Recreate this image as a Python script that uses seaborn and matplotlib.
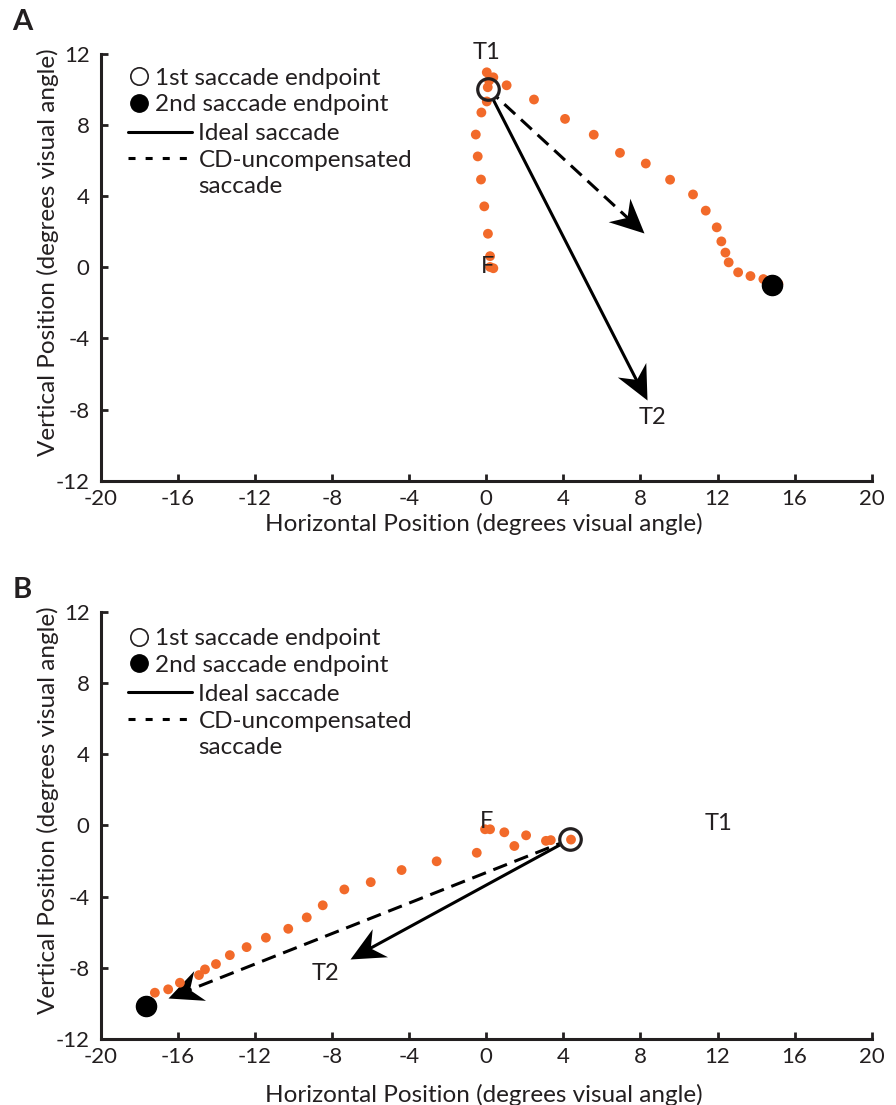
import numpy as np
import matplotlib
matplotlib.use('Agg')
import matplotlib.pyplot as plt
import seaborn as sns
from matplotlib.lines import Line2D
from matplotlib.markers import MarkerStyle
from matplotlib.path import Path
from matplotlib.transforms import Affine2D

# ---- panel A data (degrees visual angle) ----
a_fix_x = [0.2, 0.37, 0.2, 0.09, -0.1, -0.27, -0.44, -0.54, -0.25, 0.03, 0.08, 0.15, 0.03, 0.37]
a_fix_y = [0.02, -0.05, 0.63, 1.89, 3.43, 4.94, 6.24, 7.47, 8.71, 9.33, 10.13, 10.5, 10.97, 10.69]
a_sac_x = [1.06, 2.48, 4.09, 5.58, 6.94, 8.28, 9.54, 10.73, 11.39, 11.96, 12.2, 12.41, 12.58,
           13.07, 13.71, 14.38, 15.16]
a_sac_y = [10.24, 9.44, 8.35, 7.46, 6.44, 5.84, 4.93, 4.1, 3.19, 2.25, 1.46, 0.83, 0.28,
           -0.28, -0.49, -0.66, -0.92]
a_first = (0.08, 10.04)
a_second = (14.83, -1.01)
a_ideal_tip = (8.33, -7.47)
a_cd_tip = (8.19, 1.93)
a_targets = ['T1', 'F', 'T2']
a_target_x = [0.04, 0.06, 8.64]
a_target_y = [12.08, 0.06, -8.44]

# ---- panel B data ----
b_fix_x = [-0.06, 0.2, 0.94, 2.07, 3.1, 3.35, 4.4]
b_fix_y = [-0.22, -0.22, -0.39, -0.56, -0.87, -0.83, -0.8]
b_sac_x = [1.46, -0.49, -2.57, -4.39, -5.99, -7.36, -8.48, -9.31, -10.27, -11.43, -12.43,
           -13.3, -14.02, -14.59, -14.9, -15.89, -16.5, -17.19]
b_sac_y = [-1.16, -1.54, -2.02, -2.51, -3.19, -3.6, -4.49, -5.17, -5.81, -6.31, -6.84,
           -7.29, -7.79, -8.09, -8.41, -8.84, -9.21, -9.4]
b_first = (4.35, -0.79)
b_second = (-17.66, -10.15)
b_ideal_tip = (-7.07, -7.53)
b_cd_tip = (-16.5, -9.72)
b_targets = ['F', 'T1', 'T2']
b_target_x = [0.0, 12.05, -8.33]
b_target_y = [0.2, 0.11, -8.31]

x_ticks = list(range(-20, 21, 4))
y_ticks = list(range(-12, 13, 4))

ORANGE = '#f26a2a'
INK = '#231f20'
HEAD = Path([(0, 0), (-1, 0.47), (-0.68, 0), (-1, -0.47), (0, 0)],
            [Path.MOVETO, Path.LINETO, Path.LINETO, Path.LINETO, Path.CLOSEPOLY])
HEAD_PX = 34

sns.set_style('ticks')
plt.rcParams['font.family'] = ['Lato', 'DejaVu Sans']

fig = plt.figure(figsize=(8.96, 11.05), dpi=100)
axA = fig.add_axes([100.7 / 896, 1 - 480.7 / 1105, 771 / 896, 426.7 / 1105])
axB = fig.add_axes([100.7 / 896, 1 - 1039 / 1105, 771 / 896, 427.3 / 1105])


def arrow(ax, tail, tip, dashed=False):
    p0 = ax.transData.transform(tail)
    p1 = ax.transData.transform(tip)
    d = p1 - p0
    u = d / np.hypot(*d)
    ang = np.degrees(np.arctan2(d[1], d[0]))
    end = ax.transData.inverted().transform(p1 - u * HEAD_PX * 0.6)
    ls = (0, (4.8, 2.6)) if dashed else '-'
    ax.plot([tail[0], end[0]], [tail[1], end[1]], color='black', lw=2.2, ls=ls,
            solid_capstyle='butt', dash_capstyle='butt', zorder=2)
    m = MarkerStyle(HEAD, transform=Affine2D().rotate_deg(ang))
    ax.plot([tip[0]], [tip[1]], ls='none', marker=m, ms=2 * HEAD_PX * 0.72,
            color='black', mew=0, zorder=2.5)


def panel(ax, fix_x, fix_y, sac_x, sac_y, first, second, ideal_tip, cd_tip,
          targets, tx, ty, xlab_y, leg_y):
    ax.set_xlim(-20, 20)
    ax.set_ylim(-12, 12)
    ax.set_xticks(x_ticks)
    ax.set_yticks(y_ticks)
    ax.set_xticklabels([str(v) for v in x_ticks])
    ax.set_yticklabels([str(v) for v in y_ticks])
    sns.despine(ax=ax)
    for s in ['left', 'bottom']:
        ax.spines[s].set_linewidth(2.2)
        ax.spines[s].set_color(INK)
    ax.tick_params(direction='in', length=5, width=2, color=INK, labelcolor=INK,
                   labelsize=16)
    ax.tick_params(axis='y', pad=8)
    ax.tick_params(axis='x', pad=6)

    arrow(ax, first, ideal_tip)
    arrow(ax, first, cd_tip, dashed=True)

    # white disc hides line start inside the open circle
    ax.plot([first[0]], [first[1]], ls='none', marker='o', ms=15, mfc='white',
            mec='none', zorder=3)
    sns.scatterplot(x=fix_x + sac_x, y=fix_y + sac_y, ax=ax, color=ORANGE, s=50,
                    edgecolor='none', zorder=4, legend=False)
    ax.plot([first[0]], [first[1]], ls='none', marker='o', ms=15.5, mfc='none',
            mec=INK, mew=2.3, zorder=5)
    ax.plot([second[0]], [second[1]], ls='none', marker='o', ms=14.5, color='black',
            zorder=5)

    for t, x, y in zip(targets, tx, ty):
        ax.text(x, y, t, ha='center', va='center', fontsize=17, color=INK, zorder=6)

    ax.set_xlabel('Horizontal Position (degrees visual angle)', fontsize=17.5, color=INK)
    ax.set_ylabel('Vertical Position (degrees visual angle)', fontsize=17.5, color=INK)
    ax.xaxis.set_label_coords(0.497, xlab_y)
    ax.yaxis.set_label_coords(-0.054, 0.535)

    h1 = [Line2D([], [], ls='none', marker='o', ms=12.5, mfc='white', mec=INK, mew=1.2),
          Line2D([], [], ls='none', marker='o', ms=12.5, color='black')]
    leg1 = ax.legend(h1, ['1st saccade endpoint', '2nd saccade endpoint'],
                     loc='upper left', bbox_to_anchor=(0.037, leg_y[0]), frameon=False,
                     handlelength=0.8, handletextpad=0.25, labelspacing=0.23,
                     borderpad=0, borderaxespad=0, fontsize=17.5, labelcolor=INK)
    ax.add_artist(leg1)
    h2 = [Line2D([], [], color='black', lw=2.2),
          Line2D([], [], color='black', lw=2.2, ls=(0, (2.3, 3.3))),
          Line2D([], [], ls='none')]
    ax.legend(h2, ['Ideal saccade', 'CD-uncompensated', 'saccade'],
              loc='upper left', bbox_to_anchor=(0.036, leg_y[1]), frameon=False,
              handlelength=2.6, handletextpad=0.28, labelspacing=0.23,
              borderpad=0, borderaxespad=0, fontsize=17.5, labelcolor=INK)


panel(axA, a_fix_x, a_fix_y, a_sac_x, a_sac_y, a_first, a_second, a_ideal_tip,
      a_cd_tip, a_targets, a_target_x, a_target_y, -0.076, (0.968, 0.838))
panel(axB, b_fix_x, b_fix_y, b_sac_x, b_sac_y, b_first, b_second, b_ideal_tip,
      b_cd_tip, b_targets, b_target_x, b_target_y, -0.106, (0.961, 0.831))

fig.text(22 / 896, 1 - 22 / 1105, 'A', fontsize=21, fontweight='bold', ha='center',
         va='center', color=INK)
fig.text(22 / 896, 1 - 590 / 1105, 'B', fontsize=21, fontweight='bold', ha='center',
         va='center', color=INK)

fig.savefig('out.png', dpi=100)
